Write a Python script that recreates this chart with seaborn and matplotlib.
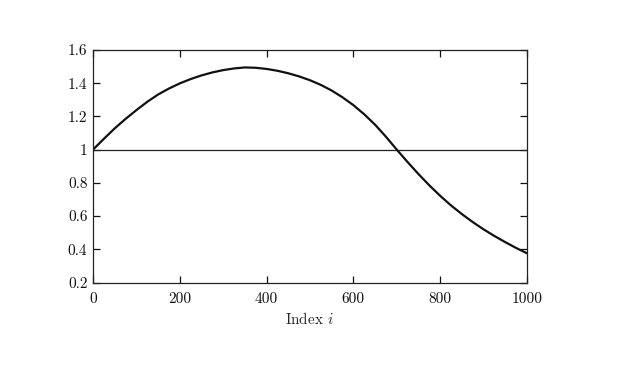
import matplotlib
matplotlib.use("Agg")
import matplotlib.pyplot as plt
import seaborn as sns
import pandas as pd

# ---- data ----
index_values = [0, 25, 50, 75, 100, 125, 150, 175, 200, 225, 250, 275, 300, 325,
                350, 375, 400, 425, 450, 475, 500, 525, 550, 575, 600, 625, 650,
                675, 700, 725, 750, 775, 800, 825, 850, 875, 900, 925, 950, 975, 1000]
curve_values = [1.000, 1.065, 1.128, 1.185, 1.238, 1.288, 1.332, 1.368, 1.399, 1.425,
                1.447, 1.465, 1.479, 1.489, 1.495, 1.493, 1.486, 1.475, 1.460, 1.441,
                1.418, 1.390, 1.356, 1.315, 1.268, 1.213, 1.150, 1.078, 1.000, 0.925,
                0.853, 0.785, 0.722, 0.664, 0.612, 0.564, 0.520, 0.480, 0.443, 0.408,
                0.376]
reference_level = 1.0

x_ticks = [0, 200, 400, 600, 800, 1000]
x_tick_labels = ["0", "200", "400", "600", "800", "1000"]
y_ticks = [0.2, 0.4, 0.6, 0.8, 1.0, 1.2, 1.4, 1.6]
y_tick_labels = ["0.2", "0.4", "0.6", "0.8", "1", "1.2", "1.4", "1.6"]
x_label = "Index $i$"

df = pd.DataFrame({"i": index_values, "value": curve_values})

sns.set_style("ticks")
plt.rcParams["font.family"] = ["cmr10", "DejaVu Serif"]
plt.rcParams["mathtext.fontset"] = "cm"
plt.rcParams["axes.formatter.use_mathtext"] = True

fig = plt.figure(figsize=(6.4, 3.88), dpi=100)
ax = fig.add_axes([0.1453, 0.2719, 0.6781, 0.5992])

ax.axhline(reference_level, color="#222222", lw=0.9)
sns.lineplot(data=df, x="i", y="value", ax=ax, color="#111111", lw=1.6)

ax.set_xlim(0, 1000)
ax.set_ylim(0.2, 1.6)
ax.set_xticks(x_ticks)
ax.set_xticklabels(x_tick_labels)
ax.set_yticks(y_ticks)
ax.set_yticklabels(y_tick_labels)
ax.set_xlabel(x_label, fontsize=11, labelpad=4)
ax.set_ylabel("")

ax.tick_params(direction="in", length=5, width=0.9, top=True, right=True,
               labelsize=11, colors="#111111")
ax.tick_params(axis="y", pad=4)
ax.tick_params(axis="x", pad=7)
for s in ax.spines.values():
    s.set_visible(True)
    s.set_color("#222222")
    s.set_linewidth(0.9)

fig.savefig("out.png", dpi=100)
